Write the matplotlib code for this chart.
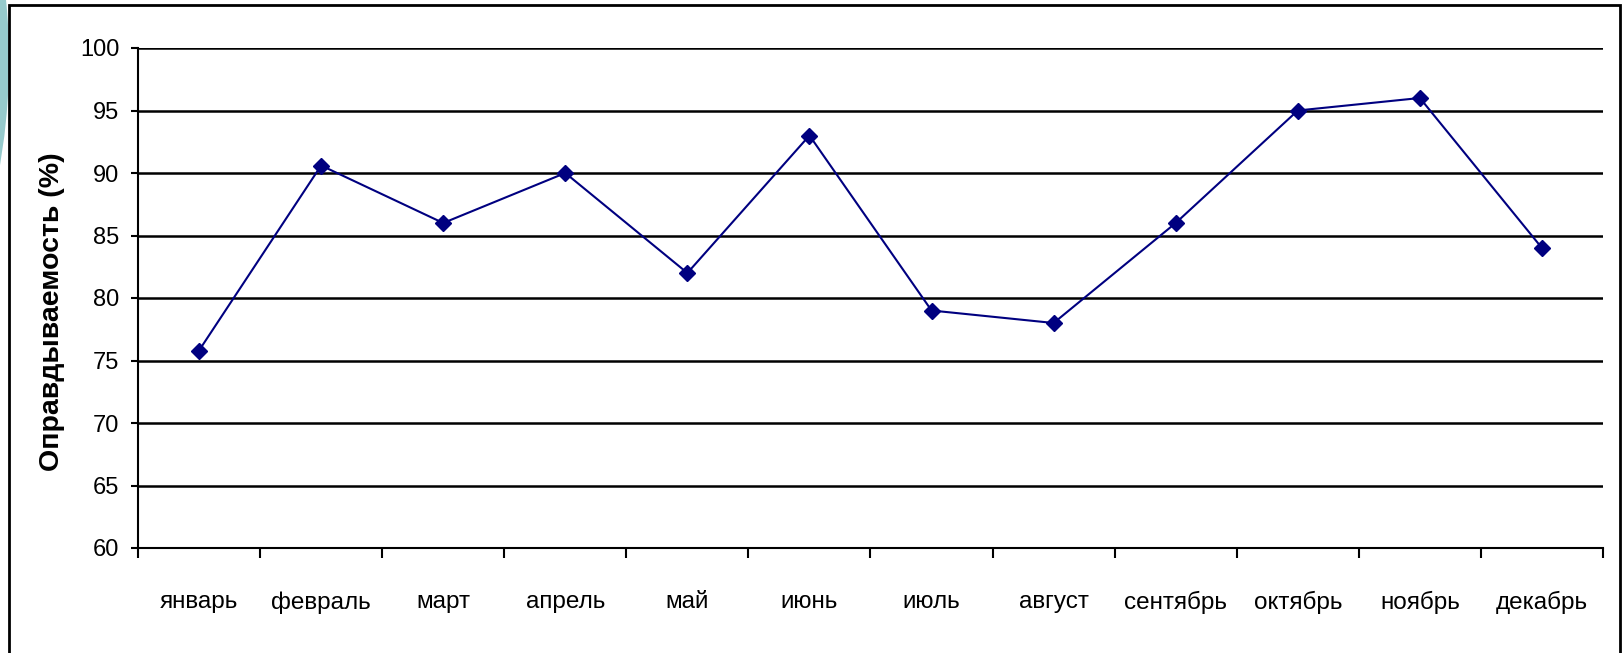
import numpy as np
import matplotlib.pyplot as plt
from matplotlib.patches import Ellipse, Rectangle

months = ['январь', 'февраль', 'март', 'апрель', 'май', 'июнь',
          'июль', 'август', 'сентябрь', 'октябрь', 'ноябрь', 'декабрь']
values = [75.8, 90.6, 86, 90, 82, 93, 79, 78, 86, 95, 96, 84]
yticks = [60, 65, 70, 75, 80, 85, 90, 95, 100]

plt.rcParams['font.family'] = ['Liberation Sans', 'DejaVu Sans']

W, H = 1623, 653
fig = plt.figure(figsize=(W / 100, H / 100), dpi=100)

# teal slide decoration on the left edge and the chart frame
r = 617
fig.patches.append(Ellipse((-608 / W, 1 - 60 / H), 2 * r / W, 2 * r / H,
                           transform=fig.transFigure, facecolor='#96cacc',
                           edgecolor='none', zorder=0))
fig.patches.append(Rectangle((9 / W, -0.05), (1620 - 9) / W, 1.05 - 5 / H,
                             transform=fig.transFigure, facecolor='white',
                             edgecolor='black', linewidth=2, zorder=1))

ax = fig.add_axes([138 / W, 1 - 548 / H, (1603 - 138) / W, 500 / H])
ax.set_zorder(2)
ax.patch.set_alpha(0)

x = np.arange(len(months))
ax.plot(x, values, color='#000080', linewidth=1.5, marker='D', markersize=8.5,
        markerfacecolor='#000080', markeredgecolor='#000080', zorder=3)

ax.set_xlim(-0.5, len(months) - 0.5)
ax.set_ylim(60, 100)
ax.set_yticks(yticks)
ax.yaxis.grid(True, color='black', linewidth=1.8)
ax.set_axisbelow(True)

ax.set_xticks(x)
ax.set_xticklabels(months, fontsize=17.5)
ax.set_xticks(np.arange(-0.5, len(months), 1), minor=True)
ax.tick_params(axis='x', which='major', length=0, pad=31)
ax.tick_params(axis='x', which='minor', length=7, width=1.5, color='black')
ax.tick_params(axis='y', length=5, width=1.5, labelsize=17, pad=8.5)

for s in ['top', 'right']:
    ax.spines[s].set_visible(False)
for s in ['left', 'bottom']:
    ax.spines[s].set_linewidth(1.5)

ax.set_ylabel('Оправдываемость (%)', fontsize=20.5, fontweight='bold')
ax.yaxis.set_label_coords(-0.050, 0.472)

fig.savefig('out.png', dpi=100)
